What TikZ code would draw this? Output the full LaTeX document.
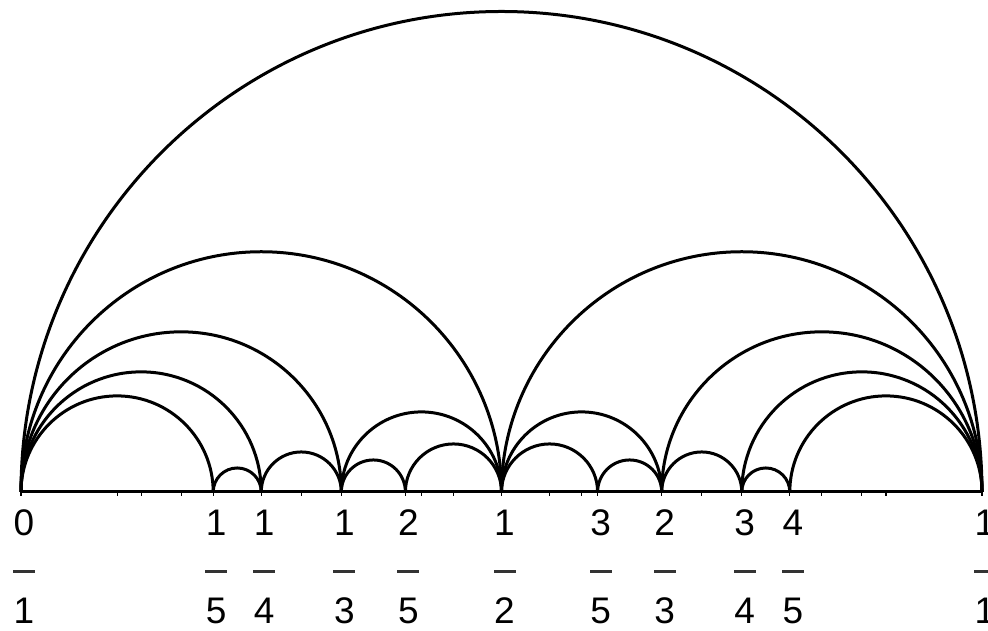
\documentclass[tikz,border=0pt]{standalone}
\usepackage{fontspec}
\setmainfont{Liberation Sans}
\usetikzlibrary{calc}
\tikzset{
  arcline/.style={line width=3pt, line join=round},
  baseline/.style={line width=3pt},
  tickmark/.style={line width=1.2pt},
  fraclab/.style={font=\fontsize{37}{37}\selectfont, inner sep=0pt, anchor=base, text=black, text depth=0pt},
  fracbar/.style={fill=black!80, minimum width=22pt, minimum height=3pt, inner sep=0pt, draw=none},
}
\begin{document}
\begin{tikzpicture}[x=1pt,y=1pt]
\useasboundingbox (0,0) rectangle (988,631);
\clip (0,0) rectangle (988,631);
\foreach \n/\num/\den/\v in {a/0/1/0, b/1/5/0.2, c/1/4/0.25, d/1/3/0.333333, e/2/5/0.4, f/1/2/0.5, g/3/5/0.6, h/2/3/0.666667, i/3/4/0.75, j/4/5/0.8, k/1/1/1}{
  \coordinate (\n) at ({21+961*\v},139);
  \node[fraclab] (\n-num) at ({24+961*\v},95) {\num};
  \node[fracbar] (\n-bar) at ({24+961*\v},59) {};
  \node[fraclab] (\n-den) at ({24+961*\v},7) {\den};
  \draw[tickmark] (\n) -- ++(0,-4);
}
\foreach \t in {0.1,0.125,0.166667,0.291667,0.416667,0.45,0.55,0.583333,0.708333,0.833333,0.875,0.9}{
  \draw[tickmark] ({21+961*\t},139) -- ++(0,-4);
}
\draw[baseline] (a) -- (k);
\foreach \u/\w in {a/k, a/f, f/k, a/d, d/f, f/h, h/k, a/c, c/d, h/i, i/k, a/b, b/c, d/e, e/f, f/g, g/h, i/j, j/k}{
  \draw[arcline] let \p1=(\u), \p2=(\w) in (\u) arc[start angle=180, end angle=0, radius={(\x2-\x1)/2}];
}
\end{tikzpicture}
\end{document}
